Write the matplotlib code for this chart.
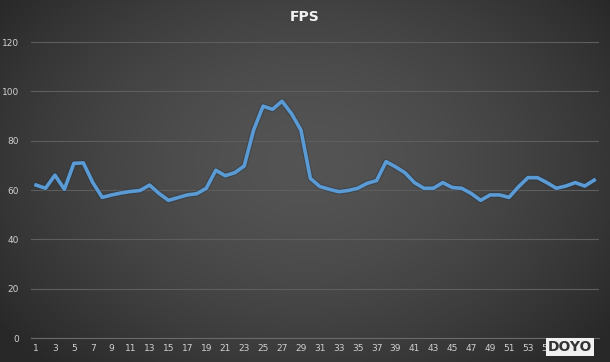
import numpy as np
import matplotlib
matplotlib.use("Agg")
import matplotlib.pyplot as plt

title = "FPS"
frames = list(range(1, 61))
fps = [62, 60.7, 66, 60.3, 70.8, 71, 63, 57, 58, 58.8, 59.4, 59.8, 62, 58.6, 55.8, 56.9,
       58, 58.5, 60.7, 68, 65.8, 67, 69.7, 84.3, 94, 92.7, 96, 91, 84.3, 64.7, 61.4,
       60.3, 59.3, 59.8, 60.7, 62.7, 63.8, 71.5, 69.4, 67, 63, 60.7, 60.7, 63, 61,
       60.7, 58.6, 55.8, 58, 58, 57, 61.3, 65, 65, 63, 60.7, 61.6, 63, 61.6, 64]
yticks = [0, 20, 40, 60, 80, 100, 120]
xtick_labels = [str(i) for i in frames[::2]]

W, H = 610, 362
fig = plt.figure(figsize=(W / 100, H / 100), dpi=100)

# radial gradient background
yy, xx = np.mgrid[0:H, 0:W]
cx, cy = W * 0.5, H * 0.45
r = np.sqrt(((xx - cx) / (W * 0.62)) ** 2 + ((yy - cy) / (H * 0.75)) ** 2)
r = np.clip(r, 0, 1)
val = 0.33 - 0.17 * r ** 1.6
bg = np.dstack([val, val, val])
bgax = fig.add_axes([0, 0, 1, 1])
bgax.imshow(bg, aspect="auto", extent=[0, 1, 0, 1], origin="upper")
bgax.axis("off")

ax = fig.add_axes([31.3 / W, (H - 338) / H, (598.9 - 31.3) / W, (338 - 42) / H])
ax.patch.set_alpha(0)
ax.plot(frames, fps, color="#1f2f40", linewidth=4.2, alpha=0.35, zorder=2,
        solid_joinstyle="round")
ax.plot(frames, fps, color="#5b9bd5", linewidth=2.6, zorder=3, solid_joinstyle="round")

ax.set_xlim(0.5, 60.5)
ax.set_ylim(0, 120)
ax.set_yticks(yticks)
ax.set_yticklabels([str(v) for v in yticks])
ax.set_xticks(frames[::2])
ax.set_xticklabels(xtick_labels)
ax.grid(axis="y", color="#5e5e5e", linewidth=0.8)
ax.set_axisbelow(True)
for s in ["top", "right", "left"]:
    ax.spines[s].set_visible(False)
ax.spines["bottom"].set_color("#6a6a6a")
ax.spines["bottom"].set_linewidth(0.8)
ax.tick_params(axis="both", length=0, colors="#d0d0d0", labelsize=6.5)
ax.tick_params(axis="y", pad=9)
ax.tick_params(axis="x", pad=4)

fig.text(0.5, (H - 17) / H, title, ha="center", va="center", color="#f2f2f2",
         fontsize=10, fontweight="bold")

fig.text(570 / W, (H - 347) / H, "DOYO", ha="center", va="center", color="#333333",
         fontsize=10, fontweight="bold",
         bbox=dict(boxstyle="square,pad=0.15", facecolor="#f0f0f0", edgecolor="none"))

fig.savefig("out.png", dpi=100)
